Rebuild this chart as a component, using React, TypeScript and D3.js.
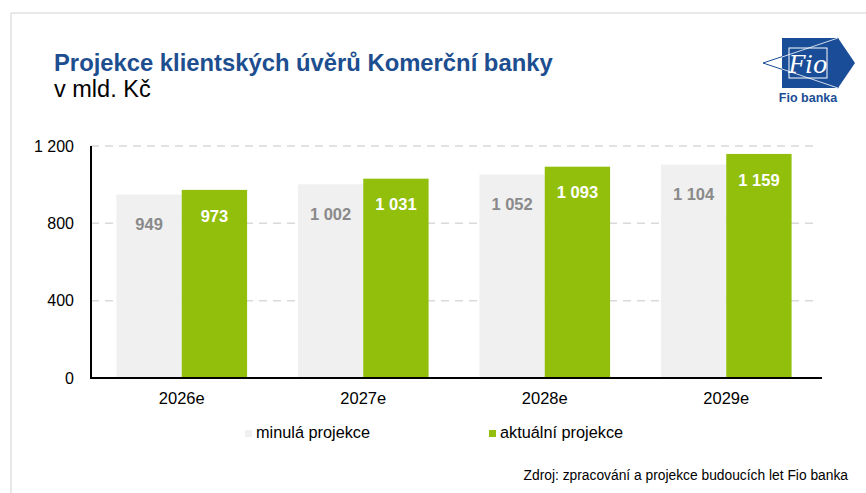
import React from "react";
import * as d3 from "d3";

const categories = ["2026e", "2027e", "2028e", "2029e"];
const seriesNames = ["minulá projekce", "aktuální projekce"];
const previousValues = [949, 1002, 1052, 1104];
const currentValues = [973, 1031, 1093, 1159];
const yTicks = [0, 400, 800, 1200];

const W = 866;
const H = 493;
const FONT = "'Liberation Sans', Arial, sans-serif";
const GREEN = "#92bf0b";
const LIGHT = "#f0f0f0";
const BLUE = "#1d4e8f";

const fmt = (v: number) => d3.format(",")(v).replace(/,/g, " ");

const App = () => {
  const x = d3.scaleBand<string>().domain(categories).range([91, 817]).paddingInner(0.28).paddingOuter(0.14);
  const inner = d3.scaleBand<number>().domain([0, 1]).range([0, x.bandwidth()]);
  const y = d3.scaleLinear().domain([0, 1200]).range([378, 146]);

  const series = [previousValues, currentValues];
  const colors = [LIGHT, GREEN];
  const labelColors = ["#8a8a8a", "#ffffff"];
  const labelOffsets = [30, 26];

  return (
    <svg width={W} height={H} style={{ position: "absolute", left: 0, top: 0, background: "#fff" }} fontFamily={FONT}>
      {/* frame */}
      <line x1={11} y1={13} x2={W} y2={13} stroke="#e0e0e0" strokeWidth={1.5} />
      <line x1={11} y1={13} x2={11} y2={H} stroke="#e0e0e0" strokeWidth={1.5} />

      {/* titles */}
      <text x={54} y={71} fontSize={23.8} fontWeight="bold" fill={BLUE}>
        Projekce klientských úvěrů Komerční banky
      </text>
      <text x={54} y={97} fontSize={23.5} fill="#000">v mld. Kč</text>

      {/* logo */}
      <g>
        <polygon points="782,38 838,38 855,63 838,88 782,88" fill="#1a4d97" />
        <polygon points="763,63 838,38 838,88" fill="none" stroke="#1a4d97" strokeWidth={1} />
        <line x1={782} y1={57} x2={838} y2={38} stroke="#fff" strokeWidth={0.8} />
        <line x1={782} y1={69} x2={838} y2={88} stroke="#fff" strokeWidth={0.8} />
        <rect x={789} y={48} width={38} height={30} fill="none" stroke="#fff" strokeWidth={1} />
        <text x={808} y={73} textAnchor="middle" fontFamily="'DejaVu Serif', serif" fontStyle="italic" fontSize={24} fill="#fff">
          Fio
        </text>
        <text x={808} y={102} textAnchor="middle" fontSize={12.5} fontWeight="bold" fill="#1a4d97">
          Fio banka
        </text>
      </g>

      {/* gridlines */}
      {yTicks.filter((t) => t > 0).map((t) => (
        <line key={t} x1={91} x2={817} y1={y(t)} y2={y(t)} stroke="#d9d9d9" strokeWidth={1.5} strokeDasharray="8,6" />
      ))}

      {/* bars */}
      {categories.map((c, i) => (
        <g key={c} transform={`translate(${x(c)},0)`}>
          {series.map((s, k) => (
            <g key={k}>
              <rect x={inner(k)} y={y(s[i])} width={inner.bandwidth()} height={y(0) - y(s[i])} fill={colors[k]} />
              <text
                x={(inner(k) as number) + inner.bandwidth() / 2}
                y={y(s[i]) + labelOffsets[k]}
                dy="0.35em"
                textAnchor="middle"
                fontSize={16.5}
                fontWeight="bold"
                fill={labelColors[k]}
              >
                {fmt(s[i])}
              </text>
            </g>
          ))}
        </g>
      ))}

      {/* axes */}
      <line x1={91} x2={91} y1={146} y2={379} stroke="#000" strokeWidth={2} />
      <line x1={90} x2={822} y1={378} y2={378} stroke="#000" strokeWidth={2} />
      {yTicks.map((t) => (
        <text key={t} x={74} y={y(t)} dy="0.35em" textAnchor="end" fontSize={16} fill="#000">
          {fmt(t)}
        </text>
      ))}
      {categories.map((c) => (
        <text key={c} x={(x(c) as number) + x.bandwidth() / 2} y={404} textAnchor="middle" fontSize={16.5} fill="#000">
          {c}
        </text>
      ))}

      {/* legend */}
      {seriesNames.map((n, k) => (
        <g key={n} transform={`translate(${k === 0 ? 245 : 489},0)`}>
          <rect x={0} y={430} width={7} height={7} fill={colors[k]} />
          <text x={11} y={438} fontSize={16.3} fill="#000">{n}</text>
        </g>
      ))}

      {/* source */}
      <text x={848} y={480} textAnchor="end" fontSize={13.8} fill="#000">
        Zdroj: zpracování a projekce budoucích let Fio banka
      </text>
    </svg>
  );
};

export default App;
